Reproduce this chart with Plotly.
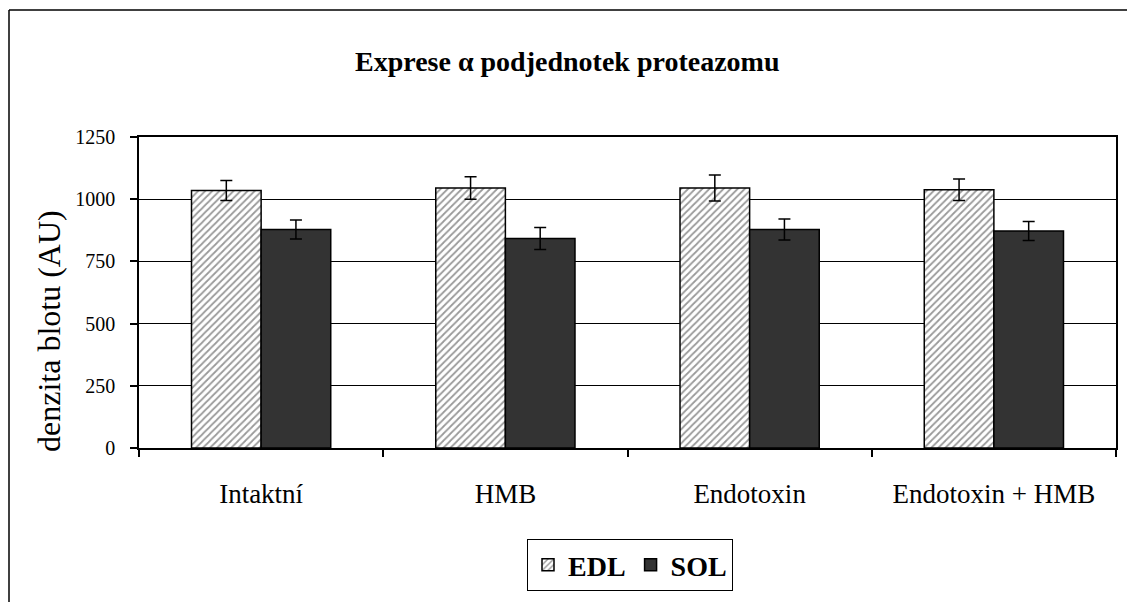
import plotly.graph_objects as go

categories = ["Intaktní", "HMB", "Endotoxin", "Endotoxin + HMB"]
edl_values = [1035, 1045, 1045, 1038]
edl_errors = [40, 45, 52, 43]
sol_values = [878, 842, 878, 872]
sol_errors = [38, 44, 42, 38]
y_ticks = [0, 250, 500, 750, 1000, 1250]

FONT = "Liberation Serif, Times New Roman, serif"

# the page puts the figure 8px in from the top-left corner,
# so margins are chosen to land the plot area where the reference has it
OFF = 8
W, H = 1135, 602
L, T = 139 - OFF, 137 - OFF
R = W + OFF - 1116
B = H + OFF - 448
PW, PH = W - L - R, H - T - B


def to_paper(sx, sy):
    """Screen pixel -> paper coords."""
    fx, fy = sx - OFF, sy - OFF
    return (fx - L) / PW, (H - B - fy) / PH


fig = go.Figure()
fig.add_trace(
    go.Bar(
        name="<b>EDL</b>",
        x=categories,
        y=edl_values,
        error_y=dict(type="data", array=edl_errors, color="black", thickness=1.5, width=6),
        marker=dict(
            color="white",
            line=dict(color="black", width=1.5),
            pattern=dict(shape="/", fgcolor="#333333", bgcolor="white", size=5, solidity=0.35),
        ),
    )
)
fig.add_trace(
    go.Bar(
        name="<b>SOL</b>",
        x=categories,
        y=sol_values,
        error_y=dict(type="data", array=sol_errors, color="black", thickness=1.5, width=6),
        marker=dict(color="#333333", line=dict(color="black", width=1.5)),
    )
)

# outer chart frame (only left and top edges show in the crop)
x0, y0 = to_paper(9, 10)
x1, y1 = to_paper(1150, 620)
fig.add_shape(type="line", xref="paper", yref="paper", x0=x0, y0=y0, x1=x0, y1=y1,
              line=dict(color="black", width=1.5))
fig.add_shape(type="line", xref="paper", yref="paper", x0=x0, y0=y0, x1=x1, y1=y0,
              line=dict(color="black", width=1.5))

tx, ty = to_paper(567, 62)
fig.add_annotation(
    text="<b>Exprese α podjednotek proteazomu</b>",
    xref="paper", yref="paper", x=tx, y=ty, showarrow=False,
    xanchor="center", yanchor="middle",
    font=dict(family=FONT, size=28, color="black"),
)

# y-axis title, placed by hand (it sits below the middle of the axis)
ax, ay = to_paper(49, 331)
fig.add_annotation(
    text="denzita blotu (AU)",
    xref="paper", yref="paper", x=ax, y=ay, showarrow=False, textangle=-90,
    xanchor="center", yanchor="middle",
    font=dict(family=FONT, size=32, color="black"),
)

lx, ly = to_paper(630, 565)
fig.update_layout(
    width=W,
    height=H,
    margin=dict(l=L, r=R, t=T, b=B),
    paper_bgcolor="white",
    plot_bgcolor="white",
    barmode="group",
    bargap=0.43,
    bargroupgap=0,
    font=dict(family=FONT, color="black"),
    showlegend=True,
    legend=dict(
        orientation="h",
        x=lx,
        y=ly,
        xanchor="center",
        yanchor="middle",
        bordercolor="black",
        borderwidth=1,
        font=dict(family=FONT, size=28, color="black"),
        itemwidth=30,
        traceorder="normal",
    ),
)

fig.update_xaxes(
    showline=True, linecolor="black", linewidth=1.5, mirror=True,
    ticks="outside", tickson="boundaries", ticklen=7, tickcolor="black", tickwidth=1.5,
    tickfont=dict(family=FONT, size=27, color="black"),
    ticklabelstandoff=21,
    showgrid=False,
)
fig.update_yaxes(
    range=[0, 1250], tickvals=y_ticks,
    showline=True, linecolor="black", linewidth=1.5, mirror=True,
    ticks="outside", ticklen=7, tickcolor="black", tickwidth=1.5,
    tickfont=dict(family=FONT, size=20, color="black"),
    ticklabelstandoff=11,
    showgrid=True, gridcolor="black", gridwidth=1,
    zeroline=False,
)

fig.write_html("out.html")
